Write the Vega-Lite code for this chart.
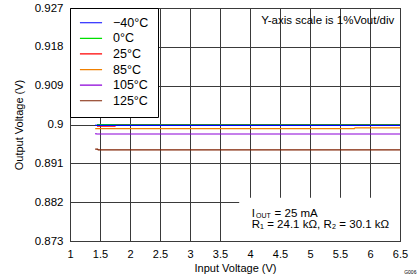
{
  "$schema": "https://vega.github.io/schema/vega-lite/v6.json",
  "width": 330,
  "height": 233,
  "autosize": {"type": "none"},
  "padding": {"left": 70, "top": 8, "right": 19, "bottom": 38},
  "background": "white",
  "config": {
    "font": "Liberation Sans",
    "view": {"stroke": "black", "strokeWidth": 1},
    "axis": {"domain": false, "ticks": false, "gridColor": "#3a3a3a", "gridOpacity": 1, "gridWidth": 1, "labelColor": "black", "titleColor": "black", "titleFontWeight": "normal", "labelFont": "Liberation Sans", "titleFont": "Liberation Sans", "labelOverlap": false, "labelFlush": false, "labelBound": false}
  },
  "datasets": {
    "curves": [
      {"temp": "0°C", "vin": 1.45, "vout": 0.9},
      {"temp": "0°C", "vin": 6.5, "vout": 0.9},
      {"temp": "25°C", "vin": 1.45, "vout": 0.89963},
      {"temp": "25°C", "vin": 1.75, "vout": 0.89963},
      {"temp": "25°C", "vin": 1.76, "vout": 0.8998},
      {"temp": "25°C", "vin": 6.5, "vout": 0.8998},
      {"temp": "−40°C", "vin": 1.42, "vout": 0.89985},
      {"temp": "−40°C", "vin": 1.45, "vout": 0.8998},
      {"temp": "−40°C", "vin": 6.5, "vout": 0.8998},
      {"temp": "85°C", "vin": 1.42, "vout": 0.89905},
      {"temp": "85°C", "vin": 5.74, "vout": 0.89905},
      {"temp": "85°C", "vin": 5.75, "vout": 0.8992},
      {"temp": "85°C", "vin": 6.5, "vout": 0.8992},
      {"temp": "105°C", "vin": 1.42, "vout": 0.8979},
      {"temp": "105°C", "vin": 1.45, "vout": 0.8978},
      {"temp": "105°C", "vin": 6.5, "vout": 0.8978},
      {"temp": "125°C", "vin": 1.42, "vout": 0.8943},
      {"temp": "125°C", "vin": 1.46, "vout": 0.8943},
      {"temp": "125°C", "vin": 1.47, "vout": 0.8941},
      {"temp": "125°C", "vin": 6.5, "vout": 0.8941}
    ]
  },
  "layer": [
    {
      "data": {"values": [{"x1": 3.82, "x2": 6.5, "y1": 0.873, "y2": 0.883}]},
      "mark": {"type": "rect", "fill": "white", "stroke": null},
      "encoding": {
        "x": {"field": "x1", "type": "quantitative"},
        "x2": {"field": "x2"},
        "y": {"field": "y1", "type": "quantitative"},
        "y2": {"field": "y2"}
      }
    },
    {
      "data": {"name": "curves"},
      "mark": {"type": "line", "strokeWidth": 1.2, "interpolate": "linear"},
      "encoding": {
        "x": {
          "field": "vin", "type": "quantitative",
          "scale": {"domain": [1, 6.5], "nice": false, "zero": false},
          "axis": {"values": [1, 1.5, 2, 2.5, 3, 3.5, 4, 4.5, 5, 5.5, 6, 6.5], "tickCount": 30, "labelExpr": "format(datum.value, '~g')", "labelFontSize": 11, "labelPadding": 7, "title": "Input Voltage (V)", "titleFontSize": 11, "titlePadding": 3}
        },
        "y": {
          "field": "vout", "type": "quantitative",
          "scale": {"domain": [0.873, 0.927], "nice": false, "zero": false},
          "axis": {"values": [0.873, 0.882, 0.891, 0.9, 0.909, 0.918, 0.927], "tickCount": 30, "labelExpr": "format(datum.value, '.3~f')", "labelFontSize": 11.5, "labelPadding": 7, "title": "Output Voltage (V)", "titleFontSize": 11, "titlePadding": 10}
        },
        "color": {
          "field": "temp", "type": "nominal",
          "scale": {
            "domain": ["−40°C", "0°C", "25°C", "85°C", "105°C", "125°C"],
            "range": ["#0000FF", "#00E000", "#FF0000", "#F08000", "#8C00D8", "#7F2000"]
          },
          "legend": {
            "title": null,
            "orient": "none",
            "legendX": 0,
            "legendY": 0,
            "padding": 9,
            "fillColor": "white",
            "strokeColor": "black",
            "symbolType": "stroke",
            "symbolSize": 490,
            "symbolStrokeWidth": 1.2,
            "clipHeight": 11.5,
            "rowPadding": 1.6,
            "labelFontSize": 12.5,
            "labelOffset": 10,
            "labelColor": "black",
            "labelFont": "Liberation Sans"
          }
        }
      }
    },
    {
      "data": {"values": [{"x": 6.405, "y": 0.92406, "t": "Y-axis scale is 1%Vout/div"}]},
      "mark": {"type": "text", "align": "right", "baseline": "middle", "fontSize": 11.5, "color": "black"},
      "encoding": {
        "x": {"field": "x", "type": "quantitative"},
        "y": {"field": "y", "type": "quantitative"},
        "text": {"field": "t"}
      }
    },
    {
      "data": {"values": [
        {"x": 4.03, "y": 0.87865, "t": "I"},
        {"x": 4.41, "y": 0.87865, "t": "= 25 mA"},
        {"x": 4.03, "y": 0.8761, "t": "R₁ = 24.1 kΩ, R₂ = 30.1 kΩ"}
      ]},
      "mark": {"type": "text", "align": "left", "baseline": "alphabetic", "fontSize": 11.5, "color": "black"},
      "encoding": {
        "x": {"field": "x", "type": "quantitative"},
        "y": {"field": "y", "type": "quantitative"},
        "text": {"field": "t"}
      }
    },
    {
      "data": {"values": [{"x": 4.1, "y": 0.8784, "t": "OUT"}]},
      "mark": {"type": "text", "align": "left", "baseline": "alphabetic", "fontSize": 7, "color": "black"},
      "encoding": {
        "x": {"field": "x", "type": "quantitative"},
        "y": {"field": "y", "type": "quantitative"},
        "text": {"field": "t"}
      }
    },
    {
      "data": {"values": [{"x": 6.57, "y": 0.86588, "t": "G006"}]},
      "mark": {"type": "text", "align": "left", "baseline": "middle", "fontSize": 5, "color": "black"},
      "encoding": {
        "x": {"field": "x", "type": "quantitative"},
        "y": {"field": "y", "type": "quantitative"},
        "text": {"field": "t"}
      }
    }
  ]
}
